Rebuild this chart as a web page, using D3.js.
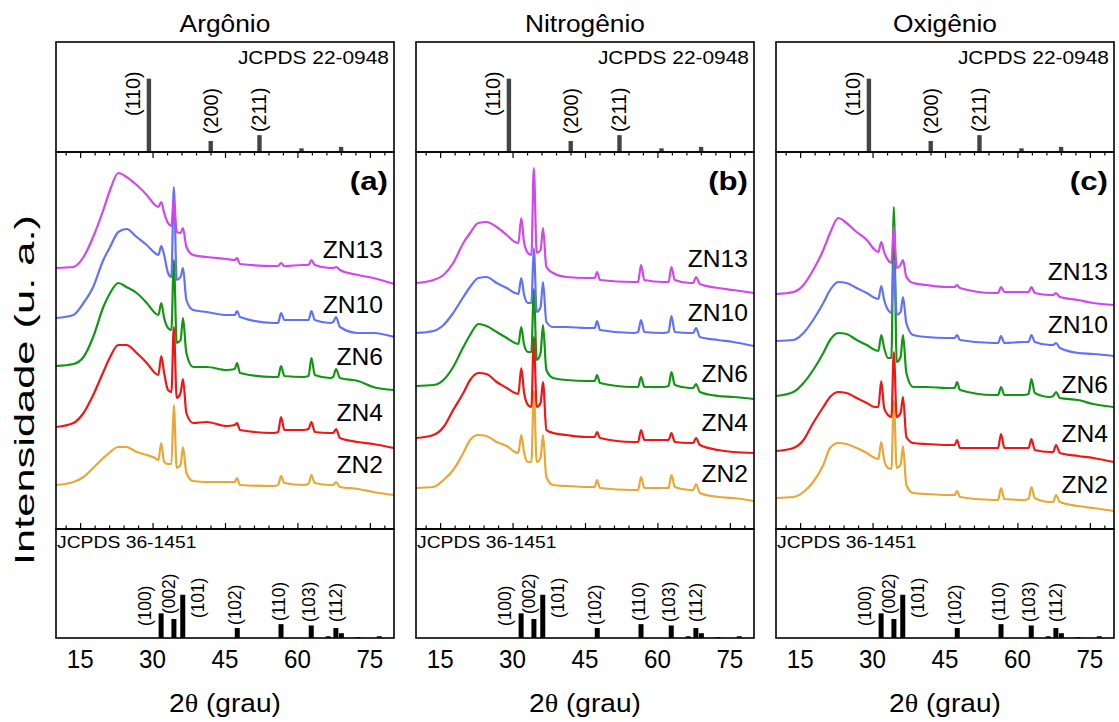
<!DOCTYPE html>
<html>
<head>
<meta charset="utf-8">
<script src="https://cdn.jsdelivr.net/npm/d3@7"></script>
<style>
  html, body { margin: 0; padding: 0; background: #fff; }
  svg { display: block; font-family: "Liberation Sans", Arial, Helvetica, sans-serif; }
</style>
</head>
<body>
<svg id="chart" width="1119" height="722"></svg>
<script>
// ---------- data ----------
const atmospheres = ["Argônio", "Nitrogênio", "Oxigênio"];
const panelTags = ["(a)", "(b)", "(c)"];
const samples = ["ZN2", "ZN4", "ZN6", "ZN10", "ZN13"];
const sampleColors = ["#e8a838", "#f01616", "#139613", "#6272f6", "#d047ee"];

// 2θ sampling (degrees) shared by every diffractogram
const twoTheta = [10, 13.6, 15.7, 17.7, 19.8, 21.2, 22.9, 24.6, 26.7, 28.8, 30.5, 31.2, 31.8, 32.4, 33.2, 33.9, 34.4, 35.0, 35.8, 36.3, 37.0, 38.4, 41.2, 45.3, 47.0, 47.5, 48.1, 55.0, 56.0, 56.6, 57.3, 61.2, 62.3, 62.9, 63.6, 66.7, 67.4, 68.0, 68.8, 72.6, 75.7, 80];

// stacked intensities (u. a.) — argon
const arZN2  = [44,47,52,61,71,77,82,82,77,74,71,69,86,67,65,65,124,61,64,82,56,48,47,47,47,51,44,43,44,53,46,44,45,54,46,44,44,47,42,40,37,34];
const arZN4  = [102,106,116,134,157,172,184,184,176,166,156,154,173,156,139,137,202,131,136,150,116,106,107,103,104,106,99,96,97,112,99,99,100,107,97,96,96,100,91,87,85,81];
const arZN6  = [163,165,172,192,222,236,246,242,236,226,216,214,226,211,201,199,269,186,189,211,176,162,162,159,160,166,156,152,152,163,153,152,153,171,154,151,152,160,151,148,142,139];
const arZN10 = [211,214,226,242,269,282,297,300,292,284,276,274,283,274,256,252,342,249,252,261,229,219,217,214,214,218,212,206,206,216,209,209,209,218,209,206,207,212,202,196,196,192];
const arZN13 = [261,262,272,292,319,339,356,352,344,334,324,322,327,316,306,303,331,297,296,301,282,274,272,270,269,271,265,263,263,266,263,264,264,269,264,261,261,262,259,254,251,245];

// nitrogen
const niZN2  = [41,42,49,59,76,89,94,93,87,83,77,76,94,76,67,67,138,67,71,94,52,44,43,42,42,49,41,39,39,52,41,41,41,54,42,39,39,45,36,32,31,28];
const niZN4  = [91,94,102,119,136,149,156,155,147,141,136,135,161,136,124,122,192,122,126,147,99,96,94,92,92,97,91,87,87,99,89,89,89,96,87,86,86,91,84,79,77,76];
const niZN6  = [143,144,149,162,182,194,205,203,197,191,186,185,202,184,177,177,240,169,176,204,159,151,149,148,148,154,146,142,142,152,142,142,143,157,144,141,141,145,137,133,132,130];
const niZN10 = [196,198,204,216,232,242,251,252,246,241,236,235,251,234,226,226,281,217,222,247,207,202,202,201,201,208,199,196,197,209,197,196,197,213,197,196,196,201,192,189,187,183];
const niZN13 = [246,249,254,266,286,296,306,307,302,294,287,286,311,286,276,274,361,276,279,301,262,256,252,251,251,257,249,247,247,264,249,247,247,262,249,246,246,252,245,241,239,236];

// oxygen
const oxZN2  = [31,32,37,47,64,81,86,85,81,76,71,70,87,69,61,60,128,61,64,83,44,36,35,34,34,38,32,29,29,41,30,29,30,42,31,27,27,34,27,23,21,18];
const oxZN4  = [78,81,89,106,122,132,137,136,131,126,122,122,148,121,114,112,177,112,116,132,92,86,85,84,84,89,81,81,81,95,81,81,81,90,79,77,77,84,76,73,71,67];
const oxZN6  = [133,137,146,159,176,189,196,195,189,184,179,178,194,181,171,171,322,167,172,194,156,142,142,141,141,147,139,134,134,142,134,134,135,150,136,132,133,137,131,129,125,122];
const oxZN10 = [188,189,196,209,226,239,247,246,241,236,231,230,243,229,219,216,269,214,217,232,206,194,192,191,191,194,189,186,186,193,186,187,187,194,187,184,184,186,181,176,175,173];
const oxZN13 = [235,237,244,259,279,296,311,306,297,289,279,277,287,277,269,266,302,261,264,269,252,246,244,242,242,244,241,236,236,242,237,237,237,242,236,234,234,236,232,229,226,224];

// reference card JCPDS 22-0948
const card22Name = "JCPDS 22-0948";
const card22Angle = [29.2, 42.0, 52.1, 60.8, 69.0];
const card22Int = [100, 15, 23, 5, 7];
const card22Hkl = ["(110)", "(200)", "(211)", "", ""];

// reference card JCPDS 36-1451 (ZnO)
const card36Name = "JCPDS 36-1451";
const card36Angle = [31.77, 34.42, 36.25, 47.54, 56.60, 62.86, 66.38, 67.96, 69.10, 72.56, 76.95];
const card36Int = [57, 44, 100, 23, 32, 29, 4, 23, 11, 2, 4];
const card36Hkl = ["(100)", "(002)", "(101)", "(102)", "(110)", "(103)", "", "(112)", "", "", ""];

const xTickLabels = [15, 30, 45, 60, 75];
const yTitle = "Intensidade (u. a.)";

const seriesByAtmosphere = [
  [arZN2, arZN4, arZN6, arZN10, arZN13],
  [niZN2, niZN4, niZN6, niZN10, niZN13],
  [oxZN2, oxZN4, oxZN6, oxZN10, oxZN13]
];

// ---------- layout ----------
const svg = d3.select("#chart");
const colX = [56, 416, 776];
const W = 338;
const TOP_Y = 42, MID_Y = 152, BOT_Y = 529, END_Y = 638;

const x = d3.scaleLinear().domain([10, 80]).range([0, W]);
const yTop = d3.scaleLinear().domain([0, 150]).range([MID_Y - TOP_Y, 0]);
const yMid = d3.scaleLinear().domain([0, 377]).range([BOT_Y - MID_Y, 0]);
const yBot = d3.scaleLinear().domain([0, 252]).range([END_Y - BOT_Y, 0]);

// sample label baselines and right insets per panel
const labelBaselines = [
  [473, 421, 365, 313, 258],
  [482, 431, 382, 321, 267],
  [493, 442, 393, 333, 280]
];
const labelInset = [11, 6, 6];

// hkl label placement: horizontal shift from the bar and bottom end of the rotated text
const card22Place = [{ dx: -16, bottom: 116 }, { dx: 0, bottom: 134 }, { dx: -1, bottom: 132 }];
const card36Place = {
  "(100)": { dx: -17, bottom: 626 }, "(002)": { dx: -5, bottom: 614 }, "(101)": { dx: 15, bottom: 618 },
  "(102)": { dx: -3, bottom: 625 }, "(110)": { dx: -2, bottom: 621 }, "(103)": { dx: -3, bottom: 622 },
  "(112)": { dx: 0, bottom: 622 }
};

// stretch a text element horizontally by a factor of its natural length
function widen(sel, k) {
  sel.each(function () {
    const n = this.getComputedTextLength();
    d3.select(this).attr("textLength", n * k).attr("lengthAdjust", "spacingAndGlyphs");
  });
  return sel;
}

const line = d3.line().x((d) => x(d[0])).y((d) => yMid(d[1])).curve(d3.curveMonotoneX);

const minorTicks = d3.range(12, 80, 3).filter((t) => t % 15 !== 0);

atmospheres.forEach((atm, ci) => {
  const g = svg.append("g").attr("transform", `translate(${colX[ci]},0)`);

  // column title
  widen(g.append("text")
    .attr("x", W / 2).attr("y", 32)
    .attr("text-anchor", "middle")
    .attr("font-size", 23.5)
    .text(atm), 1.12);

  // ----- top reference panel -----
  const top = g.append("g").attr("transform", `translate(0,${TOP_Y})`);
  top.selectAll("rect.bar")
    .data(card22Angle.map((a, i) => ({ a, v: card22Int[i] })))
    .join("rect")
    .attr("x", (d) => x(d.a) - 2)
    .attr("width", 4.4)
    .attr("y", (d) => yTop(d.v))
    .attr("height", (d) => yTop(0) - yTop(d.v))
    .attr("fill", "#444");

  card22Hkl.forEach((h, i) => {
    if (!h) return;
    const p = card22Place[i];
    const fs = 21;
    widen(g.append("text")
      .attr("transform", `translate(${x(card22Angle[i]) + p.dx + 0.36 * fs},${p.bottom}) rotate(-90)`)
      .attr("font-size", fs)
      .text(h), 0.94);
  });

  widen(g.append("text")
    .attr("x", W - 5).attr("y", 64)
    .attr("text-anchor", "end")
    .attr("font-size", 18.5)
    .text(card22Name), 1.13);

  // ----- middle diffractogram panel -----
  const clipId = `clip-${ci}`;
  svg.append("clipPath").attr("id", clipId)
    .append("rect").attr("x", 0).attr("y", 0).attr("width", W).attr("height", BOT_Y - MID_Y);

  const mid = g.append("g").attr("transform", `translate(0,${MID_Y})`);
  const curves = mid.append("g").attr("clip-path", `url(#${clipId})`);
  seriesByAtmosphere[ci].forEach((vals, si) => {
    curves.append("path")
      .datum(twoTheta.map((t, k) => [t, vals[k]]))
      .attr("d", line)
      .attr("fill", "none")
      .attr("stroke", sampleColors[si])
      .attr("stroke-width", 2.2)
      .attr("stroke-linejoin", "round");
  });

  samples.forEach((s, si) => {
    widen(g.append("text")
      .attr("x", W - labelInset[ci]).attr("y", labelBaselines[ci][si])
      .attr("text-anchor", "end")
      .attr("font-size", 23)
      .text(s), 1.07);
  });

  widen(g.append("text")
    .attr("x", W - 6).attr("y", 190)
    .attr("text-anchor", "end")
    .attr("font-size", 26)
    .attr("font-weight", "bold")
    .text(panelTags[ci]), 1.2);

  // inward ticks on the top and bottom edges of the middle panel
  const tickStyle = (sel) => { sel.select(".domain").remove(); sel.selectAll("line").attr("stroke", "#000").attr("stroke-width", 1.2); sel.selectAll("text").remove(); };
  mid.append("g").call(d3.axisTop(x).tickValues(minorTicks).tickSize(-3.5)).call(tickStyle);
  mid.append("g").call(d3.axisTop(x).tickValues(xTickLabels).tickSize(-6)).call(tickStyle);
  mid.append("g").attr("transform", `translate(0,${BOT_Y - MID_Y})`)
    .call(d3.axisBottom(x).tickValues(minorTicks).tickSize(-3.5)).call(tickStyle);
  mid.append("g").attr("transform", `translate(0,${BOT_Y - MID_Y})`)
    .call(d3.axisBottom(x).tickValues(xTickLabels).tickSize(-6)).call(tickStyle);

  // ----- bottom reference panel -----
  const bot = g.append("g").attr("transform", `translate(0,${BOT_Y})`);
  bot.selectAll("rect.bar")
    .data(card36Angle.map((a, i) => ({ a, v: card36Int[i] })))
    .join("rect")
    .attr("x", (d) => x(d.a) - 2.5)
    .attr("width", 5)
    .attr("y", (d) => yBot(d.v))
    .attr("height", (d) => yBot(0) - yBot(d.v))
    .attr("fill", "#000");

  card36Hkl.forEach((h, i) => {
    if (!h) return;
    const p = card36Place[h];
    const fs = 18;
    widen(g.append("text")
      .attr("transform", `translate(${x(card36Angle[i]) + p.dx + 0.36 * fs},${p.bottom}) rotate(-90)`)
      .attr("font-size", fs)
      .text(h), 0.96);
  });

  widen(g.append("text")
    .attr("x", 1).attr("y", 548)
    .attr("font-size", 16.5)
    .text(card36Name), 1.17);

  // x tick labels and axis title
  g.selectAll("text.tick")
    .data(xTickLabels)
    .join("text")
    .attr("x", (d) => x(d)).attr("y", 668)
    .attr("text-anchor", "middle")
    .attr("font-size", 26)
    .each(function (d) { d3.select(this).text(d); })
    .call((s) => widen(s, 0.93));

  const xt = g.append("text")
    .attr("x", W / 2).attr("y", 712)
    .attr("text-anchor", "middle")
    .attr("font-size", 26);
  xt.append("tspan").text("2");
  xt.append("tspan").attr("font-family", "'Liberation Serif', 'DejaVu Serif', serif").text("θ");
  xt.append("tspan").text(" (grau)");
  widen(xt, 1.08);

  // panel frames
  [[TOP_Y, MID_Y], [MID_Y, BOT_Y], [BOT_Y, END_Y]].forEach(([a, b]) => {
    g.append("rect")
      .attr("x", 0).attr("y", a).attr("width", W).attr("height", b - a)
      .attr("fill", "none").attr("stroke", "#000").attr("stroke-width", 1.6);
  });
});

// shared y-axis title
svg.append("text")
  .attr("transform", "translate(34,390) rotate(-90)")
  .attr("text-anchor", "middle")
  .attr("font-size", 28)
  .attr("textLength", 350)
  .attr("lengthAdjust", "spacingAndGlyphs")
  .text(yTitle);
</script>
</body>
</html>
